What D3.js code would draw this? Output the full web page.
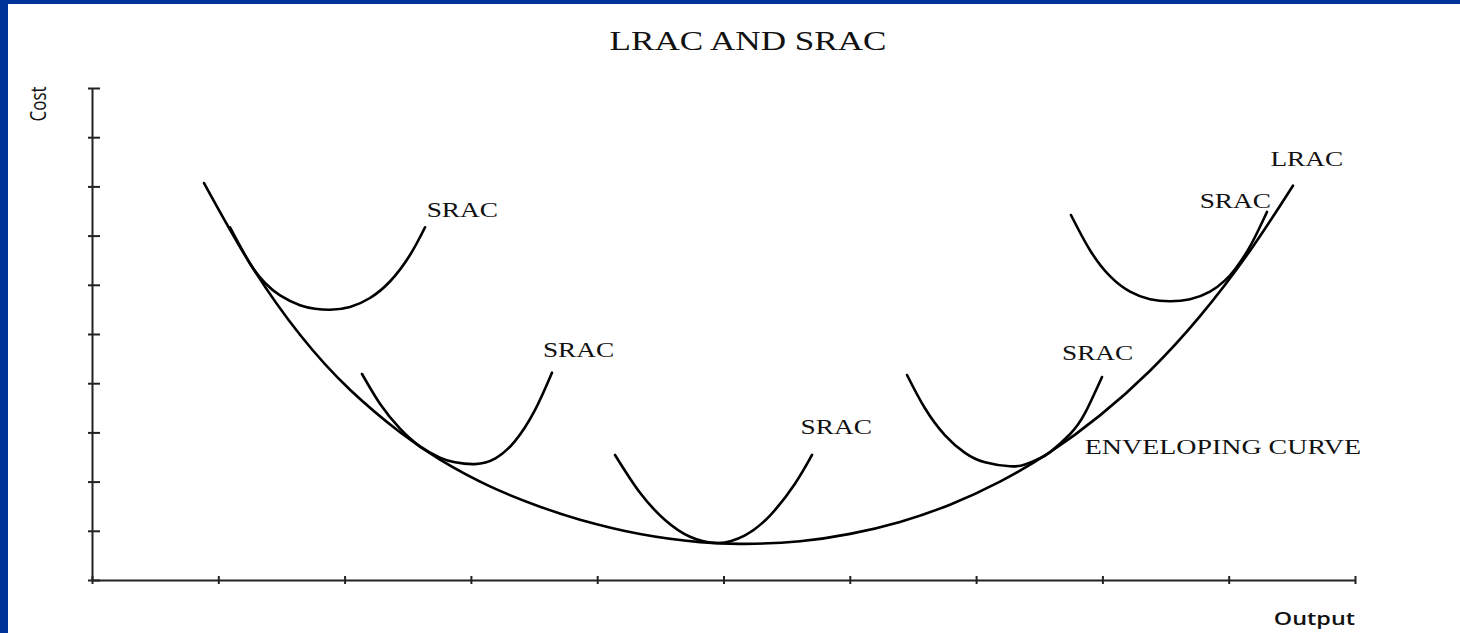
<html>
  <head>
    <script src="https://cdnjs.cloudflare.com/ajax/libs/d3/7.9.0/d3.min.js"></script>
    <style>
      body { margin: 0; background: #fff; overflow: hidden; }
    </style>
  </head>
  <body onload="main()">
  </body>
  <script>
    // axis ticks (no labels in the original, just marks)
    const xTickValues = [0, 1, 2, 3, 4, 5, 6, 7, 8, 9, 10]
    const yTickValues = [0, 1, 2, 3, 4, 5, 6, 7, 8, 9, 10]

    // long run average cost (the envelope)
    const lrac = [
      [0.887, 8.069], [1.251, 6.433], [1.647, 4.984], [2.043, 3.866], [2.439, 3.002],
      [2.755, 2.445], [3.151, 1.902], [3.547, 1.490], [3.864, 1.226], [4.339, 0.935],
      [4.814, 0.770], [5.170, 0.734], [5.606, 0.789], [6.002, 0.937], [6.397, 1.181],
      [6.793, 1.530], [7.189, 1.998], [7.585, 2.598], [7.981, 3.346], [8.377, 4.254],
      [8.773, 5.362], [9.169, 6.693], [9.509, 8.014]
    ]

    // short run average cost curves
    const srac1 = [
      [1.093, 7.165], [1.251, 6.433], [1.370, 6.037], [1.489, 5.785], [1.647, 5.585], [1.766, 5.514],
      [1.884, 5.492], [2.043, 5.549], [2.201, 5.732], [2.359, 6.067], [2.518, 6.606], [2.637, 7.169]
    ]
    const srac2 = [
      [2.138, 4.187], [2.280, 3.583], [2.439, 3.075], [2.597, 2.717], [2.755, 2.488], [2.874, 2.392],
      [3.033, 2.356], [3.191, 2.467], [3.349, 2.823], [3.507, 3.453], [3.642, 4.213]
    ]
    const srac3 = [
      [4.141, 2.541], [4.339, 1.772], [4.537, 1.220], [4.735, 0.878], [4.956, 0.752],
      [5.170, 0.907], [5.368, 1.309], [5.566, 1.957], [5.701, 2.541]
    ]
    const srac4 = [
      [6.453, 4.167], [6.595, 3.490], [6.754, 2.941], [6.912, 2.585], [7.070, 2.392], [7.268, 2.311],
      [7.387, 2.348], [7.506, 2.476], [7.585, 2.596], [7.743, 2.963], [7.862, 3.390], [7.997, 4.126]
    ]
    const srac5 = [
      [7.751, 7.419], [7.902, 6.703], [8.060, 6.175], [8.219, 5.860], [8.377, 5.707], [8.535, 5.667],
      [8.694, 5.707], [8.852, 5.860], [8.971, 6.089], [9.050, 6.317], [9.169, 6.782], [9.303, 7.482]
    ]

    const curveLabels = ['SRAC', 'SRAC', 'SRAC', 'SRAC', 'SRAC', 'LRAC', 'ENVELOPING CURVE']
    const labelX = [2.65, 3.57, 5.61, 7.68, 8.77, 9.33, 7.86]
    const labelY = [7.38, 4.53, 2.97, 4.47, 7.56, 8.41, 2.56]

    // the slide was stretched sideways, so every text is widened the same way
    const stretch = 1.3

    function main() {
      const width = 1460
      const height = 633
      const svg = d3.select('body')
        .append('svg')
        .attr('width', width)
        .attr('height', height)

      // blue slide frame
      svg.append('rect').attr('x', 0).attr('y', 0).attr('width', width).attr('height', 4).attr('fill', '#003399')
      svg.append('rect').attr('x', 0).attr('y', 0).attr('width', 8).attr('height', height).attr('fill', '#003399')

      const x = d3.scaleLinear([0, 10], [92, 1355])
      const y = d3.scaleLinear([0, 10], [580, 88])

      svg.append('text')
        .attr('transform', `translate(748, 50) scale(${stretch}, 1)`)
        .attr('text-anchor', 'middle')
        .attr('font-family', 'Liberation Serif')
        .attr('font-size', 27)
        .attr('fill', '#111')
        .text('LRAC AND SRAC')

      const xAxis = svg.append('g')
        .attr('transform', `translate(0, ${y(0)})`)
        .call(d3.axisBottom(x).tickValues(xTickValues).tickFormat('').tickSizeOuter(0))
      xAxis.selectAll('.tick line').attr('y1', -4).attr('y2', 4)

      const yAxis = svg.append('g')
        .attr('transform', `translate(${x(0)}, 0)`)
        .call(d3.axisLeft(y).tickValues(yTickValues).tickFormat('').tickSizeOuter(0))
      yAxis.selectAll('.tick line').attr('x1', -4).attr('x2', 8)

      svg.selectAll('.domain, .tick line')
        .attr('stroke', '#222')
        .attr('stroke-width', 2)

      const line = d3.line()
        .x(d => x(d[0]))
        .y(d => y(d[1]))
        .curve(d3.curveNatural)

      svg.append('g')
        .selectAll('path')
        .data([lrac, srac1, srac2, srac3, srac4, srac5])
        .enter()
        .append('path')
        .attr('d', line)
        .attr('fill', 'none')
        .attr('stroke', '#000')
        .attr('stroke-width', 2.6)
        .attr('stroke-linecap', 'round')

      svg.append('g')
        .selectAll('text')
        .data(curveLabels)
        .enter()
        .append('text')
        .attr('transform', (d, i) => `translate(${x(labelX[i])}, ${y(labelY[i])}) scale(${stretch}, 1)`)
        .attr('font-family', 'Liberation Serif')
        .attr('font-size', d => d.length > 5 ? 21.5 : 21)
        .attr('fill', '#111')
        .text(d => d)

      svg.append('text')
        .attr('transform', `translate(46, 104) scale(${stretch}, 1) rotate(-90)`)
        .attr('text-anchor', 'middle')
        .attr('font-family', 'Open Sans')
        .attr('font-size', 17)
        .attr('fill', '#111')
        .text('Cost')

      svg.append('text')
        .attr('transform', `translate(1355, 625) scale(${stretch}, 1)`)
        .attr('text-anchor', 'end')
        .attr('font-family', 'Open Sans')
        .attr('font-size', 18)
        .attr('font-weight', 600)
        .attr('fill', '#111')
        .text('Output')
    }
  </script>
</html>
